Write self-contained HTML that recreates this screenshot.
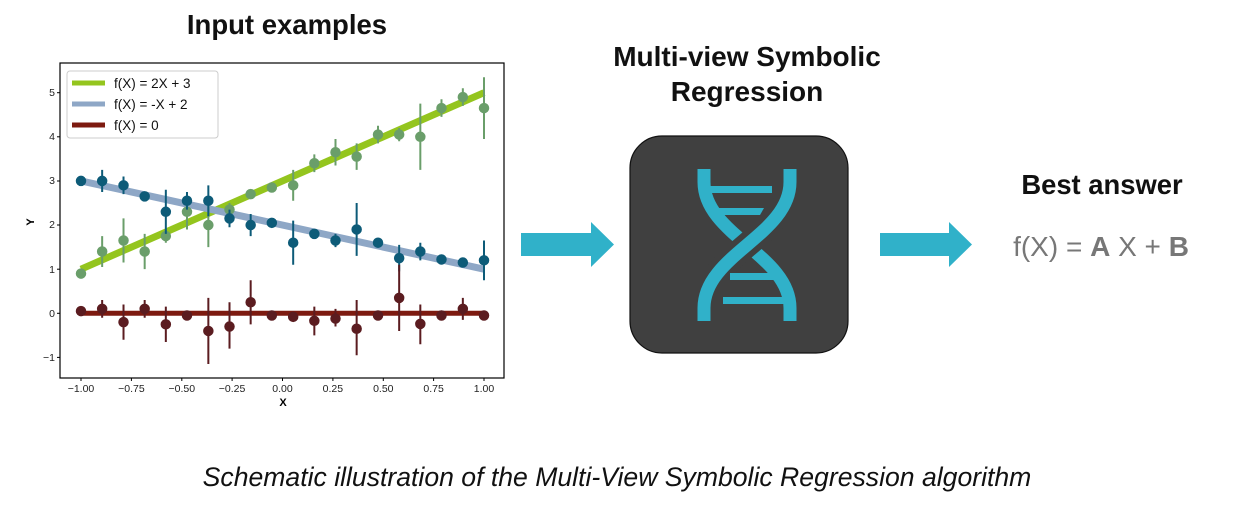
<!DOCTYPE html>
<html><head><meta charset="utf-8"><style>
html,body{margin:0;padding:0;background:#fff;width:1256px;height:525px;overflow:hidden}
svg{display:block}
.t{font-family:"Liberation Sans",sans-serif}
</style></head><body>
<svg width="1256" height="525" viewBox="0 0 1256 525" xmlns="http://www.w3.org/2000/svg">
<text class="t" x="287" y="34" font-size="27.5" font-weight="bold" text-anchor="middle" fill="#111">Input examples</text>
<text class="t" x="747" y="66" font-size="28" font-weight="bold" text-anchor="middle" fill="#111">Multi-view Symbolic</text>
<text class="t" x="747" y="101" font-size="28" font-weight="bold" text-anchor="middle" fill="#111">Regression</text>
<text class="t" x="1102" y="194" font-size="27.4" font-weight="bold" text-anchor="middle" fill="#111">Best answer</text>
<text class="t" x="1101" y="256" font-size="28" text-anchor="middle" fill="#777">f(X) = <tspan font-weight="bold">A</tspan> X + <tspan font-weight="bold">B</tspan></text>
<text class="t" x="617" y="486" font-size="26.6" font-style="italic" text-anchor="middle" fill="#111">Schematic illustration of the Multi-View Symbolic Regression algorithm</text>

<!-- arrows -->
<polygon points="521,233 591,233 591,222 614,244.5 591,267 591,256 521,256" fill="#30b1c9"/>
<polygon points="880,233 949,233 949,222 972,244.5 949,267 949,256 880,256" fill="#30b1c9"/>

<!-- DNA box -->
<rect x="630" y="136" width="218" height="217" rx="32" fill="#404040" stroke="#111" stroke-width="1.2"/>
<g fill="none" stroke-linecap="butt">
<path d="M704,169 V182 C704,235 790,255 790,308 V321" stroke="#30b1c9" stroke-width="13"/>
<path d="M790,169 V182 C790,235 704,255 704,308 V321" stroke="#404040" stroke-width="25"/>
<path d="M790,169 V182 C790,235 704,255 704,308 V321" stroke="#30b1c9" stroke-width="13"/>
</g>
<g fill="#30b1c9">
<rect x="710" y="186" width="62" height="7"/>
<polygon points="710,208 764,208 760,215 710,215"/>
<polygon points="730,273 774,273 777,280 730,280"/>
<rect x="723" y="297" width="64" height="7"/>
</g>

<!-- plot -->
<rect x="60" y="63" width="444" height="315" fill="#fff" stroke="#000" stroke-width="1.2"/>
<g class="t" font-size="10.5" fill="#222" text-anchor="end">
<text x="55" y="96">5</text><text x="55" y="140">4</text><text x="55" y="184">3</text><text x="55" y="228">2</text><text x="55" y="273">1</text><text x="55" y="317">0</text><text x="55" y="361">−1</text>
</g>
<g stroke="#000" stroke-width="1">
<line x1="57" y1="92.7" x2="60" y2="92.7"/><line x1="57" y1="136.8" x2="60" y2="136.8"/><line x1="57" y1="181" x2="60" y2="181"/><line x1="57" y1="225" x2="60" y2="225"/><line x1="57" y1="269.2" x2="60" y2="269.2"/><line x1="57" y1="313.3" x2="60" y2="313.3"/><line x1="57" y1="357.4" x2="60" y2="357.4"/>
<line x1="81" y1="378" x2="81" y2="381"/><line x1="131.4" y1="378" x2="131.4" y2="381"/><line x1="181.8" y1="378" x2="181.8" y2="381"/><line x1="232.1" y1="378" x2="232.1" y2="381"/><line x1="282.5" y1="378" x2="282.5" y2="381"/><line x1="332.9" y1="378" x2="332.9" y2="381"/><line x1="383.3" y1="378" x2="383.3" y2="381"/><line x1="433.6" y1="378" x2="433.6" y2="381"/><line x1="484" y1="378" x2="484" y2="381"/>
</g>
<g class="t" font-size="10.5" fill="#222" text-anchor="middle">
<text x="81" y="392">−1.00</text><text x="131.4" y="392">−0.75</text><text x="181.8" y="392">−0.50</text><text x="232.1" y="392">−0.25</text><text x="282.5" y="392">0.00</text><text x="332.9" y="392">0.25</text><text x="383.3" y="392">0.50</text><text x="433.6" y="392">0.75</text><text x="484" y="392">1.00</text>
</g>
<text class="t" x="283" y="406" font-size="11" font-weight="bold" text-anchor="middle">X</text>
<text class="t" x="0" y="0" font-size="11" font-weight="bold" text-anchor="middle" transform="translate(34,222) rotate(-90)">Y</text>

<g transform="translate(282.5,313.3) scale(201.5,-44.13)" fill="none">
<path d="M-1,1 L1,5" stroke="#94c51e" stroke-width="7" vector-effect="non-scaling-stroke"/>
<path d="M-1,3 L1,1" stroke="#8ea7c6" stroke-width="7" vector-effect="non-scaling-stroke"/>
<path d="M-1,0 L1,0" stroke="#7d1a10" stroke-width="5" vector-effect="non-scaling-stroke"/>
<!-- green -->
<g stroke="#6a9e6a" stroke-width="2">
<path vector-effect="non-scaling-stroke" d="M-1,0.8V1 M-0.895,1.05V1.75 M-0.789,1.15V2.15 M-0.684,1V1.8 M-0.579,1.6V1.9 M-0.474,1.9V2.7 M-0.368,1.5V2.5 M-0.263,2.2V2.5 M0.053,2.55V3.25 M0.158,3.2V3.6 M0.263,3.35V3.95 M0.368,3.25V3.85 M0.474,3.85V4.25 M0.579,3.9V4.2 M0.684,3.25V4.75 M0.789,4.45V4.85 M0.895,4.7V5.1 M1,3.95V5.35"/>
</g>
<path vector-effect="non-scaling-stroke" stroke="#6a9e6a" stroke-width="10.5" stroke-linecap="round" d="M-1,0.9h0 M-0.895,1.4h0 M-0.789,1.65h0 M-0.684,1.4h0 M-0.579,1.75h0 M-0.474,2.3h0 M-0.368,2h0 M-0.263,2.35h0 M-0.158,2.7h0 M-0.053,2.85h0 M0.053,2.9h0 M0.158,3.4h0 M0.263,3.65h0 M0.368,3.55h0 M0.474,4.05h0 M0.579,4.05h0 M0.684,4h0 M0.789,4.65h0 M0.895,4.9h0 M1,4.65h0"/>
<!-- blue -->
<g stroke="#0d5b78" stroke-width="2">
<path vector-effect="non-scaling-stroke" d="M-0.895,2.75V3.25 M-0.789,2.7V3.1 M-0.579,1.8V2.8 M-0.474,2.35V2.75 M-0.368,2.2V2.9 M-0.263,1.95V2.35 M-0.158,1.75V2.25 M0.053,1.1V2.1 M0.263,1.5V1.8 M0.368,1.3V2.5 M0.474,1.5V1.7 M0.579,0.95V1.55 M0.684,1.2V1.6 M1,0.75V1.65"/>
</g>
<path vector-effect="non-scaling-stroke" stroke="#0d5b78" stroke-width="10.5" stroke-linecap="round" d="M-1,3h0 M-0.895,3h0 M-0.789,2.9h0 M-0.684,2.65h0 M-0.579,2.3h0 M-0.474,2.55h0 M-0.368,2.55h0 M-0.263,2.15h0 M-0.158,2h0 M-0.053,2.05h0 M0.053,1.6h0 M0.158,1.8h0 M0.263,1.65h0 M0.368,1.9h0 M0.474,1.6h0 M0.579,1.25h0 M0.684,1.4h0 M0.789,1.22h0 M0.895,1.15h0 M1,1.2h0"/>
<!-- red -->
<g stroke="#5b1c20" stroke-width="2">
<path vector-effect="non-scaling-stroke" d="M-0.895,-0.1V0.3 M-0.789,-0.6V0.2 M-0.684,-0.1V0.3 M-0.579,-0.65V0.15 M-0.368,-1.15V0.35 M-0.263,-0.8V0.25 M-0.158,-0.25V0.75 M0.158,-0.5V0.15 M0.263,-0.3V0.1 M0.368,-0.95V0.3 M0.579,-0.4V1.1 M0.684,-0.7V0.2 M0.895,-0.15V0.35"/>
</g>
<path vector-effect="non-scaling-stroke" stroke="#5b1c20" stroke-width="10.5" stroke-linecap="round" d="M-1,0.05h0 M-0.895,0.1h0 M-0.789,-0.2h0 M-0.684,0.1h0 M-0.579,-0.25h0 M-0.474,-0.05h0 M-0.368,-0.4h0 M-0.263,-0.3h0 M-0.158,0.25h0 M-0.053,-0.05h0 M0.053,-0.08h0 M0.158,-0.17h0 M0.263,-0.12h0 M0.368,-0.35h0 M0.474,-0.05h0 M0.579,0.35h0 M0.684,-0.24h0 M0.789,-0.05h0 M0.895,0.1h0 M1,-0.05h0"/>
</g>

<!-- legend -->
<rect x="67" y="71" width="151" height="67" rx="3" fill="#fff" fill-opacity="0.85" stroke="#ccc" stroke-width="1"/>
<line x1="72" y1="83" x2="105" y2="83" stroke="#94c51e" stroke-width="5"/>
<line x1="72" y1="104" x2="105" y2="104" stroke="#8ea7c6" stroke-width="5"/>
<line x1="72" y1="125" x2="105" y2="125" stroke="#7d1a10" stroke-width="5"/>
<g class="t" font-size="13.5" fill="#111">
<text x="114" y="88">f(X) = 2X + 3</text>
<text x="114" y="109">f(X) = -X + 2</text>
<text x="114" y="130">f(X) = 0</text>
</g>
</svg>
</body></html>
